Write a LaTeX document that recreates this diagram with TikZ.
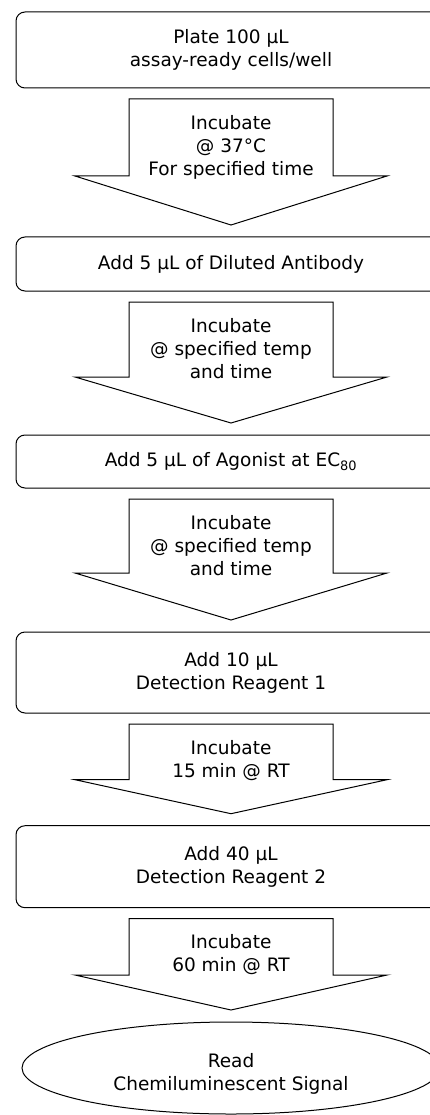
\documentclass[tikz,border=0pt]{standalone}
\usepackage{fontspec}
\setmainfont{DejaVu Sans}
\usetikzlibrary{shapes.geometric,calc}
\newcommand\mytop{\rule{0pt}{14.5pt}}
\newcommand\mybot{\rule[-4.5pt]{0pt}{4.5pt}}
\newcommand\blockarrow[5]{%
  \path (#1.south) ++(0,11) coordinate (#4top);
  \path (#2.north) ++(0,-12) coordinate (#4tip);
  \draw[arrowshape] let \p1=(#4top), \p2=(#4tip) in
    (\x1-102pt,\y1) -- (\x1+102pt,\y1) -- (\x1+102pt,\y2+#3) -- (\x1+156pt,\y2+#3)
    -- (\x1,\y2) -- (\x1-156pt,\y2+#3) -- (\x1-102pt,\y2+#3) -- cycle;
  \node[arrowtext] (#4txt) at ([yshift=-15.5pt]#4top) {#5};
}
\tikzset{
  stepbox/.style={draw, line width=1pt, rounded corners=9pt, minimum width=430pt,
    inner sep=0pt, outer sep=0pt, align=center},
  arrowshape/.style={draw, line width=1pt, line join=miter, fill=white},
  arrowtext/.style={anchor=north, inner sep=0pt, align=center},
  readnode/.style={draw, ellipse, line width=1pt, minimum width=418pt,
    minimum height=92pt, inner sep=0pt, outer sep=0pt, align=center},
}
\begin{document}
\begin{tikzpicture}[x=1pt, y=-1pt, font=\fontsize{18.5}{23}\selectfont]
\useasboundingbox (0,0) rectangle (430,1115);
\clip (0,0) rectangle (430,1115);
\fill[white] (0,0) rectangle (430,1115);

\node[stepbox, minimum height=76pt] (plate) at (231,50)
  {\mytop Plate 100 µL\\assay-ready cells/well\mybot};
\node[stepbox, minimum height=54pt] (antibody) at (231,264)
  {\mytop Add 5 µL of Diluted Antibody\mybot};
\node[stepbox, minimum height=53pt] (agonist) at (231,461.5)
  {\mytop Add 5 µL of Agonist at EC\textsubscript{80}\mybot};
\node[stepbox, minimum height=81pt] (det1) at (231,672.5)
  {\mytop Add 10 µL\\Detection Reagent 1\mybot};
\node[stepbox, minimum height=82pt] (det2) at (231,866.7)
  {\mytop Add 40 µL\\Detection Reagent 2\mybot};
\node[readnode] (read) at (231,1068)
  {\rule{0pt}{25.5pt}Read\\Chemiluminescent Signal\mybot};

\blockarrow{plate}{antibody}{49pt}{a1}{\mytop Incubate\\@ 37°C\\For specified time}
\blockarrow{antibody}{agonist}{46pt}{a2}{\mytop Incubate\\@ specified temp\\and time}
\blockarrow{agonist}{det1}{47pt}{a3}{\mytop Incubate\\@ specified temp\\and time}
\blockarrow{det1}{det2}{34pt}{a4}{\mytop Incubate\\15 min @ RT}
\blockarrow{det2}{read}{35pt}{a5}{\mytop Incubate\\60 min @ RT}
\end{tikzpicture}
\end{document}
